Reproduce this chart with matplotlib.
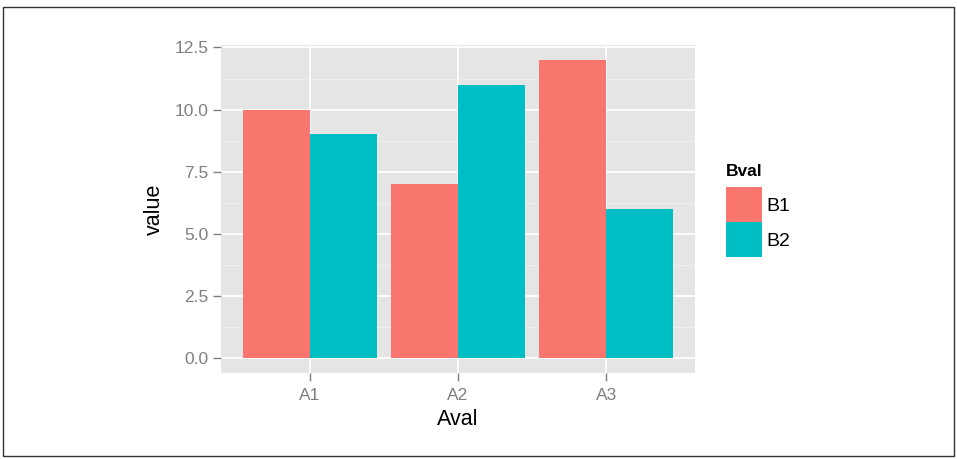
import matplotlib
matplotlib.use("Agg")
import matplotlib.pyplot as plt
import matplotlib.patches as mpatches
from matplotlib.ticker import MultipleLocator
import numpy as np

# dados
aval = ['A1', 'A2', 'A3']
bval = ['B1', 'B2']
b1_values = [10, 7, 12]
b2_values = [9, 11, 6]
cores = ['#F8766D', '#00BFC4']

plt.rcParams['font.family'] = ['Liberation Sans', 'DejaVu Sans']

fig = plt.figure(figsize=(9.57, 4.59), dpi=100)
ax = fig.add_axes([221 / 957, 86 / 459, 474 / 957, 328 / 459])

x = np.arange(1, len(aval) + 1)
w = 0.45
ax.bar(x - w / 2, b1_values, width=w, color=cores[0], label=bval[0], zorder=3)
ax.bar(x + w / 2, b2_values, width=w, color=cores[1], label=bval[1], zorder=3)

# estilo ggplot
ax.set_facecolor('#E5E5E5')
for s in ax.spines.values():
    s.set_visible(False)
ax.set_xlim(0.4, 3.6)
ax.set_ylim(-0.6, 12.6)
ax.set_xticks(x)
ax.set_xticklabels(aval)
ax.yaxis.set_major_locator(MultipleLocator(2.5))
ax.yaxis.set_minor_locator(MultipleLocator(1.25))
ax.yaxis.set_major_formatter(plt.FormatStrFormatter('%.1f'))
ax.grid(which='major', color='white', linewidth=1.3, zorder=1)
ax.grid(which='minor', axis='y', color='#F2F2F2', linewidth=0.6, zorder=1)
ax.set_axisbelow(True)
ax.tick_params(axis='both', which='major', colors='#7F7F7F', labelsize=12.5,
               length=6, width=1)
ax.tick_params(axis='x', which='major', pad=5)
ax.tick_params(axis='y', which='major', pad=3)
ax.tick_params(axis='y', which='minor', length=0)
for lbl in ax.get_xticklabels() + ax.get_yticklabels():
    lbl.set_color('#7F7F7F')

ax.set_xlabel('Aval', fontsize=15.5, color='black', labelpad=4)
ax.set_ylabel('value', fontsize=15.5, color='black', labelpad=7)

# legenda
leg = fig.legend(loc='upper left', bbox_to_anchor=(718 / 957, 1 - 156 / 459),
                 frameon=False, title='Bval', fontsize=14,
                 handlelength=1.85, handleheight=2.4, handletextpad=0.25,
                 labelspacing=0.0, borderaxespad=0, alignment='left')
leg.get_title().set_fontweight('bold')
leg.get_title().set_fontsize(12.5)
leg._legend_box.sep = 6  # espaço entre título e chaves

# borda da imagem
fig.patches.append(mpatches.Rectangle((3 / 957, 3 / 459), 951 / 957, 449 / 459,
                                      transform=fig.transFigure, fill=False,
                                      edgecolor='#333333', linewidth=1))

fig.savefig('out.png', dpi=100)
plt.close(fig)
